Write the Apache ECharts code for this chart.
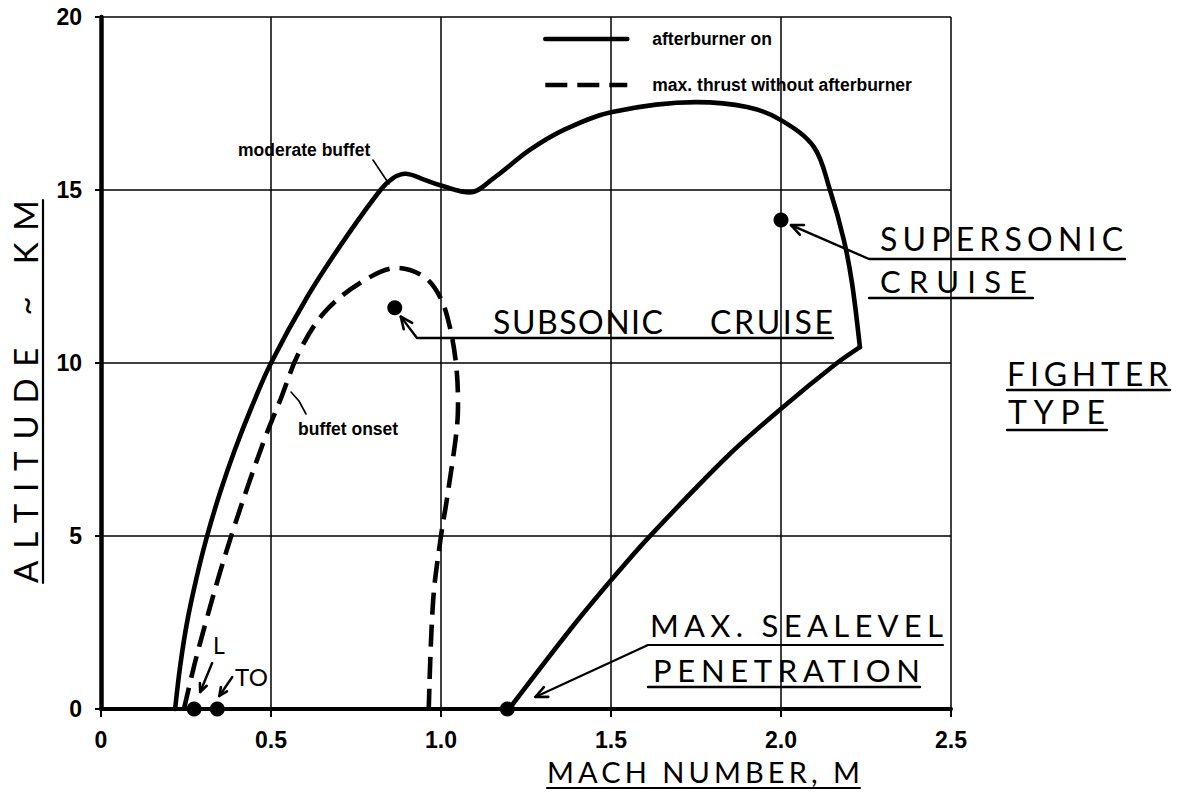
<!DOCTYPE html>
<html>
<head>
<meta charset="utf-8">
<title>Flight envelope - fighter type</title>
<script src="https://cdn.jsdelivr.net/npm/echarts@6.0.0/dist/echarts.min.js"></script>
<style>
html,body{margin:0;padding:0;background:#fff;}
#chart{width:1181px;height:796px;}
</style>
</head>
<body>
<div id="chart"></div>
<script>
// ===================== data (Mach number, altitude km) =====================
const xTickLabels = ['0', '0.5', '1.0', '1.5', '2.0', '2.5'];
const yTickLabels = ['0', '5', '10', '15', '20'];
const seriesNames = ['afterburner on', 'max. thrust without afterburner'];

const afterburnerEnvelope = [
  [0.218, 0], [0.233, 1.25], [0.253, 2.5], [0.280, 3.75], [0.312, 5.0], [0.350, 6.25],
  [0.394, 7.5], [0.444, 8.75], [0.500, 10.0], [0.606, 11.9], [0.708, 13.45], [0.822, 15.0],
  [0.860, 15.35], [0.895, 15.47], [0.950, 15.30], [1.000, 15.13], [1.085, 14.93],
  [1.156, 15.35], [1.260, 16.15], [1.360, 16.73], [1.500, 17.25], [1.750, 17.54],
  [1.900, 17.40], [2.000, 17.02], [2.097, 16.24], [2.144, 15.00], [2.185, 13.55],
  [2.209, 12.30], [2.232, 10.46]
];
const afterburnerLowBranch = [
  [2.232, 10.46], [2.162, 9.98], [2.000, 8.68], [1.844, 7.32], [1.609, 4.94],
  [1.500, 3.72], [1.382, 2.32], [1.200, 0]
];
const dryThrust = [
  [0.244, 0], [0.274, 1.25], [0.308, 2.5], [0.344, 3.75], [0.383, 5.0], [0.434, 6.5],
  [0.488, 7.98], [0.528, 8.95], [0.582, 10.3], [0.656, 11.45], [0.762, 12.31],
  [0.871, 12.75], [0.950, 12.49], [0.997, 11.91], [1.026, 11.04], [1.045, 9.9],
  [1.050, 8.75], [1.045, 7.97], [1.017, 6.04], [1.000, 5.0], [0.977, 3.15], [0.964, 0]
];
const pointNames = ['L', 'TO', 'max. sealevel penetration', 'subsonic cruise', 'supersonic cruise'];
const pointMach  = [0.274, 0.342, 1.195, 0.864, 2.0];
const pointAlt   = [0, 0, 0, 11.6, 14.13];

// ===================== chart =====================
const chart = echarts.init(document.getElementById('chart'), null, { renderer: 'svg' });

const BOLD = '"Liberation Sans", Arial, Helvetica, sans-serif';
const tickFont = { fontFamily: BOLD, fontWeight: 'bold', fontSize: 23, color: '#000' };
const curveStyle = { color: '#000', width: 4.6, cap: 'round', join: 'round', opacity: 1 };

const option = {
  animation: false,
  backgroundColor: '#fff',
  grid: { left: 101, right: 230, top: 17, bottom: 87, containLabel: false, outerBoundsMode: 'none' },
  xAxis: {
    type: 'value', min: 0, max: 2.5, interval: 0.5,
    axisLine: { show: true, onZero: false, lineStyle: { color: '#000', width: 4 } },
    axisTick: { show: true, length: 8, lineStyle: { color: '#000', width: 2 } },
    axisLabel: Object.assign({ margin: 19, formatter: v => xTickLabels[Math.round(v / 0.5)] }, tickFont),
    splitLine: { show: true, lineStyle: { color: '#000', width: 1.5 } }
  },
  yAxis: {
    type: 'value', min: 0, max: 20, interval: 5,
    axisLine: { show: true, onZero: false, lineStyle: { color: '#000', width: 4.5 } },
    axisTick: { show: true, length: 6, lineStyle: { color: '#000', width: 2 } },
    axisLabel: Object.assign({ margin: 19, formatter: v => yTickLabels[Math.round(v / 5)] }, tickFont),
    splitLine: { show: true, lineStyle: { color: '#000', width: 1.5 } }
  },
  legend: {
    data: seriesNames,
    orient: 'vertical', left: 538, top: 25,
    itemWidth: 82, itemHeight: 16, itemGap: 28,
    selectedMode: false,
    itemStyle: { opacity: 0 },
    lineStyle: { width: 4.6, color: '#000' },
    textStyle: { fontFamily: BOLD, fontWeight: 'bold', fontSize: 17.5, color: '#000', padding: [0, 0, 0, 20] }
  },
  series: [
    { name: seriesNames[0], type: 'line', data: afterburnerEnvelope, smooth: 0.35, symbol: 'none',
      clip: false, silent: true, lineStyle: curveStyle, itemStyle: { color: '#000' }, z: 3 },
    { name: seriesNames[0], type: 'line', data: afterburnerLowBranch, smooth: 0.3, symbol: 'none',
      clip: false, silent: true, lineStyle: curveStyle, itemStyle: { color: '#000' }, z: 3 },
    { name: seriesNames[1], type: 'line', data: dryThrust, smooth: 0.35, symbol: 'none',
      clip: false, silent: true, z: 3, itemStyle: { color: '#000' },
      lineStyle: { color: '#000', width: 4.6, type: [22, 10], cap: 'butt', opacity: 1 } },
    { name: 'points', type: 'scatter', clip: false, silent: true, z: 4, symbolSize: 15,
      itemStyle: { color: '#000', opacity: 1 },
      data: pointMach.map((m, i) => ({ name: pointNames[i], value: [m, pointAlt[i]] })) }
  ]
};
chart.setOption(option);

// ===================== annotations =====================
const g = [];
function line(pts, w) {
  g.push({ type: 'polyline', silent: true, z: 10, shape: { points: pts },
    style: { stroke: '#000', lineWidth: w || 2, fill: null, lineJoin: 'round', lineCap: 'round' } });
}
function arrowHead(tip, from, len, spread, w) {
  len = len || 13; spread = spread || 0.42;
  const a = Math.atan2(from[1] - tip[1], from[0] - tip[0]);
  line([[tip[0] + len * Math.cos(a + spread), tip[1] + len * Math.sin(a + spread)], tip,
        [tip[0] + len * Math.cos(a - spread), tip[1] + len * Math.sin(a - spread)]], w || 2.6);
}
function boldText(text, x, y) {
  g.push({ type: 'text', x, y, silent: true, z: 10,
    style: { text, fill: '#000', fontFamily: BOLD, fontWeight: 'bold', fontSize: 17.5,
             textAlign: 'left', verticalAlign: 'middle', textVerticalAlign: 'middle' } });
}
const HAND = 'Lato';
const mctx = document.createElement('canvas').getContext('2d');
let css = '';
let handId = 0;
function handText(text, x, y, size, width, rotation) {
  const tag = 'hw' + (handId++) + 'q';
  mctx.font = '400 ' + size + 'px ' + HAND;
  const nat = mctx.measureText(text).width;
  const ls = text.length > 1 ? (width - nat) / (text.length - 1) : 0;
  css += 'text[style*="' + tag + '"],text[font-family*="' + tag + '"]{letter-spacing:' + ls.toFixed(2) + 'px;}';
  g.push({ type: 'text', x, y, rotation: rotation || 0, silent: true, z: 10,
    style: { text, fill: '#000', fontFamily: HAND + ', ' + tag, fontWeight: 400, fontSize: size,
             textAlign: 'left', verticalAlign: 'middle', textVerticalAlign: 'middle' } });
}

const dot = i => chart.convertToPixel({ gridIndex: 0 }, [pointMach[i], pointAlt[i]]);

// curve labels
boldText('moderate buffet', 238, 150);
line([[373, 160], [389, 184]], 1.6);
boldText('buffet onset', 298, 429);
line([[291, 392], [299, 401], [306, 414]], 1.6);

// subsonic cruise
handText('SUBSONIC', 493, 321, 32, 170);
handText('CRUISE', 710, 321, 32, 123);
const dSub = dot(3);
const tSub = [dSub[0] + 6, dSub[1] + 9];
line([[833, 338], [417, 338], tSub], 2.4);
arrowHead(tSub, [417, 338]);

// supersonic cruise
handText('SUPERSONIC', 880, 238, 32, 243);
handText('CRUISE', 880, 281, 31, 147);
const dSup = dot(4);
const tSup = [dSup[0] + 10, dSup[1] + 5];
line([[1125, 259], [869, 259], tSup], 2.4);
arrowHead(tSup, [869, 259]);
line([[869, 298], [1033, 298]], 2.4);

// fighter type
handText('FIGHTER', 1007, 373, 32, 161);
line([[1007, 390], [1170, 390]], 2.4);
handText('TYPE', 1008, 411, 32, 97);
line([[1007, 430], [1107, 430]], 2.4);

// max sealevel penetration
handText('MAX. SEALEVEL', 650, 625, 31, 293);
handText('PENETRATION', 653, 670, 31, 267);
const dPen = dot(2);
const tPen = [dPen[0] + 28, dPen[1] - 12];
line([[943, 645], [648, 645], tPen], 2.2);
arrowHead(tPen, [648, 645]);
line([[648, 687], [920, 687]], 2.4);

// L / TO
handText('L', 213, 645, 23, 17);
handText('TO', 235, 676, 24, 33);
const dL = dot(0);
const tL = [dL[0] + 6, dL[1] - 17];
line([[dL[0] + 18, dL[1] - 46], tL], 2.4);
arrowHead(tL, [dL[0] + 18, dL[1] - 46], 9);
const dTO = dot(1);
const tTO = [dTO[0] + 2, dTO[1] - 13];
line([[dTO[0] + 15, dTO[1] - 32], tTO], 2.4);
arrowHead(tTO, [dTO[0] + 15, dTO[1] - 32], 9);

// axis titles
handText('MACH NUMBER, M', 547, 771, 29, 313);
line([[547, 788], [860, 788]], 2.2);
handText('ALTITUDE ~ KM', 25, 583, 33, 383, Math.PI / 2);
line([[43, 200], [43, 583]], 2.2);

const st = document.createElement('style');
st.textContent = css;
document.head.appendChild(st);

chart.setOption({ graphic: { elements: g } });
</script>
</body>
</html>
